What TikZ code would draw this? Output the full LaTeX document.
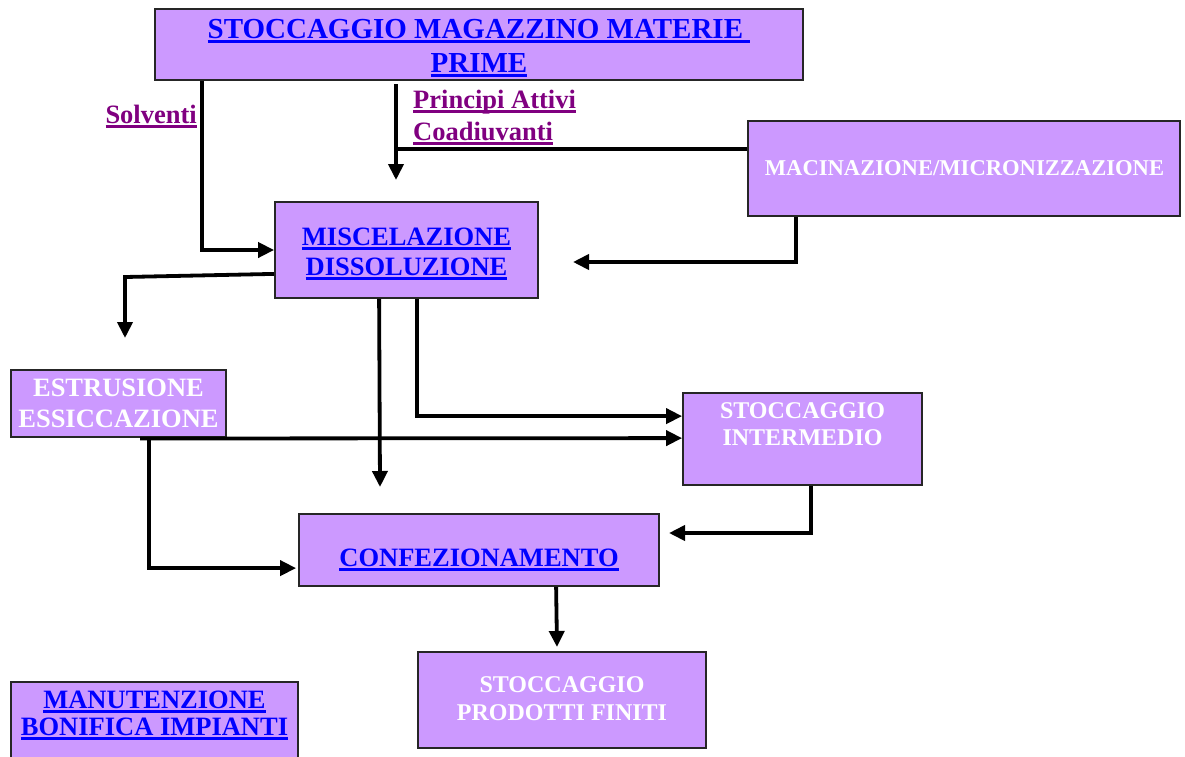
\documentclass[tikz,border=0pt]{standalone}
\usepackage{fontspec}
\setmainfont{Liberation Serif}
\usetikzlibrary{arrows.meta,calc}
\definecolor{boxfill}{HTML}{CC99FF}
\definecolor{linkblue}{HTML}{0000FF}
\definecolor{labpurple}{HTML}{800080}
\newsavebox{\ulsave}
\newcommand{\myul}[1]{\sbox{\ulsave}{#1}\rlap{\rule[-5pt]{\wd\ulsave}{3pt}}\usebox{\ulsave}}
\begin{document}
\begin{tikzpicture}[x=1pt,y=-1pt,
  box/.style={draw=black!85,line width=1.8pt,fill=boxfill,inner sep=0pt},
  bluetxt/.style={inner sep=0pt,anchor=base,text=linkblue,font=\bfseries\fontsize{26.5}{30}\selectfont},
  bigtxt/.style={inner sep=0pt,anchor=base,text=linkblue,font=\bfseries\fontsize{29}{34}\selectfont},
  labtxt/.style={inner sep=0pt,anchor=base,text=labpurple,font=\bfseries\fontsize{26.5}{30}\selectfont},
  whitetxt/.style={inner sep=0pt,anchor=base,text=white,font=\bfseries\fontsize{24}{28}\selectfont},
  conn/.style={line width=3.8pt,draw=black},
  arr/.style={conn,-{Triangle[length=16pt,width=15pt]}}
]
\clip (0,0) rectangle (1185,756);
\fill[white] (0,0) rectangle (1185,756);

% boxes
\node[box,minimum width=648pt,minimum height=71pt] (top) at (479,44.5) {};
\node[box,minimum width=432pt,minimum height=95pt] (macin) at (964,168.5) {};
\node[box,minimum width=263pt,minimum height=96pt] (misc) at (406.5,250) {};
\node[box,minimum width=215pt,minimum height=67pt] (estr) at (118.5,403.5) {};
\node[box,minimum width=239pt,minimum height=92pt] (stint) at (802.5,439) {};
\node[box,minimum width=360pt,minimum height=72pt] (conf) at (479,550) {};
\node[box,minimum width=288pt,minimum height=96pt] (stprod) at (562,700) {};
\node[box,minimum width=287pt,minimum height=110pt] (manut) at (154.5,737) {};

% texts
\node[bigtxt] (top1) at (479,38) {\myul{STOCCAGGIO MAGAZZINO MATERIE\ }};
\node[bigtxt] (top2) at (479,72) {\myul{PRIME}};
\node[labtxt,anchor=base east] (solv) at (197,123) {\myul{Solventi}};
\node[labtxt,anchor=base west] (pa) at (413,108) {\myul{Principi Attivi}};
\node[labtxt,anchor=base west] (coad) at (413,140) {\myul{Coadiuvanti}};
\node[whitetxt,font=\bfseries\fontsize{22.6}{26}\selectfont] (macin1) at (964.5,175) {MACINAZIONE/MICRONIZZAZIONE};
\node[bluetxt] (misc1) at (406.5,245) {\myul{MISCELAZIONE}};
\node[bluetxt] (misc2) at (406.5,275) {\myul{DISSOLUZIONE}};
\node[whitetxt,font=\bfseries\fontsize{26.5}{30}\selectfont] (estr1) at (118.5,396) {ESTRUSIONE};
\node[whitetxt,font=\bfseries\fontsize{26.5}{30}\selectfont] (estr2) at (118.5,427) {ESSICCAZIONE};
\node[whitetxt] (stint1) at (802.5,418) {STOCCAGGIO};
\node[whitetxt] (stint2) at (802.5,445) {INTERMEDIO};
\node[bluetxt] (conf1) at (479,566) {\myul{CONFEZIONAMENTO}};
\node[whitetxt] (stprod1) at (562,692) {STOCCAGGIO};
\node[whitetxt] (stprod2) at (562,720) {PRODOTTI FINITI};
\node[bluetxt] (manut1) at (154.5,708) {\myul{MANUTENZIONE}};
\node[bluetxt] (manut2) at (154.5,735) {\myul{BONIFICA IMPIANTI}};

% free ends
\coordinate (paStart) at (396,84);
\coordinate (paEnd) at (396,180);
\coordinate (paJoin) at (396,149);
\coordinate (mcEnd) at (573,262);
\coordinate (esBend) at (125,277);
\coordinate (esEnd) at (125,338);
\coordinate (mdEnd) at (380,487);
\coordinate (siEnd) at (669,533);
\coordinate (cfEnd) at (557,647);
\coordinate (exStart) at (140,438.5);
\coordinate (exBend) at (149,438.5);

% connectors
\draw[arr] ($(top.south west)+(48,0)$) |- (misc.west);
\draw[arr] (paStart) -- (paEnd);
\draw[conn] (paJoin) -- (paJoin -| macin.west);
\draw[arr] ($(macin.south west)+(49,0)$) |- (mcEnd);
\draw[arr] ($(misc.south west)+(0,-25)$) -- (esBend) -- (esEnd);
\draw[arr] ($(misc.south west)+(105,0)$) -- (mdEnd);
\draw[arr] ($(misc.south west)+(143,0)$) |- ($(stint.north west)+(0,24)$);
\draw[arr] (exStart) -- ($(stint.north west)+(0,46)$);
\draw[arr] (exBend) |- ($(conf.north west)+(-2,55)$);
\draw[arr] ($(stint.south west)+(129,0)$) |- (siEnd);
\draw[arr] ($(conf.south west)+(258,0)$) -- (cfEnd);
\end{tikzpicture}
\end{document}
